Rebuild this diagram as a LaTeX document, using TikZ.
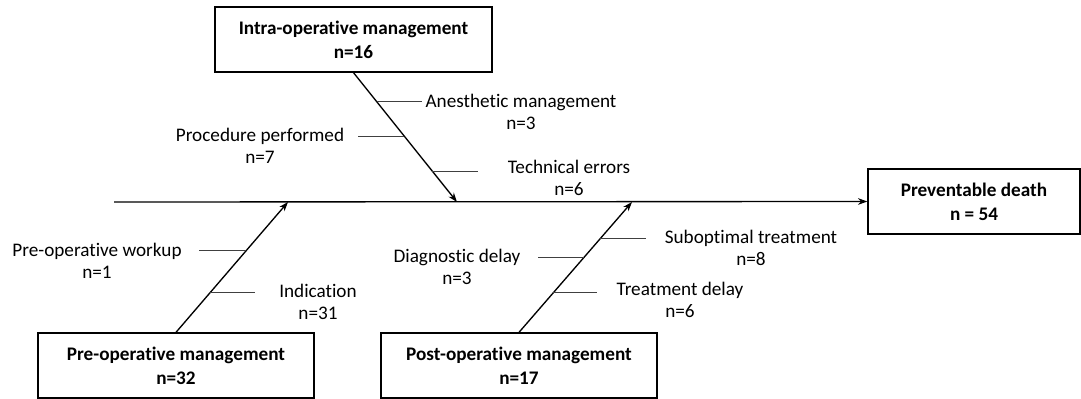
\documentclass[tikz,border=0pt]{standalone}
\usepackage{fontspec}
\setmainfont[Ligatures=NoCommon]{Carlito}
\usetikzlibrary{arrows.meta}

\begin{document}
\begin{tikzpicture}[x=0.75pt,y=-0.75pt,
  cause/.style={draw,line width=1pt,inner sep=0pt,minimum height=48.75pt,align=center,
    font=\bfseries\fontsize{14.4}{18}\selectfont},
  sub/.style={align=center,inner sep=0pt,font=\fontsize{14.4}{16.5}\selectfont},
  spine/.style={line width=1pt,-{Stealth[length=7pt,width=5pt]}},
  bone/.style={line width=0.8pt,black!75}]

\useasboundingbox (0,0) rectangle (1081,399);

% Effect
\node[cause,minimum width=159pt] (death) at (974,201.5) {Preventable death\\n = 54};

% Main line
\coordinate (tail) at (114,202);
\draw[spine] (tail) -- (death.west);

% Categories
\node[cause,minimum width=207.75pt] (intra) at (353.5,39.5) {Intra-operative management\\n=16};
\node[cause,minimum width=207pt] (pre) at (176,365.5) {Pre-operative management\\n=32};
\node[cause,minimum width=207pt] (post) at (519,365.5) {Post-operative management\\n=17};

% Heads on main line
\coordinate (intrahead) at (457,202);
\coordinate (prehead) at (288,202);
\coordinate (posthead) at (632,202);

% Spines
\draw[spine] (intra.south) -- (intrahead)
  coordinate[pos=0.223] (anes)
  coordinate[pos=0.492] (proc)
  coordinate[pos=0.762] (tech);
\draw[spine] (pre.north) -- (prehead)
  coordinate[pos=0.626] (workup)
  coordinate[pos=0.305] (indic);
\draw[spine] (post.north) -- (posthead)
  coordinate[pos=0.718] (subopt)
  coordinate[pos=0.573] (diag)
  coordinate[pos=0.305] (treat);

% Bones
\draw[bone] (anes) -- ++(45,0);
\draw[bone] (proc) -- ++(-46,0);
\draw[bone] (tech) -- ++(46,0);
\draw[bone] (workup) -- ++(-47,0);
\draw[bone] (indic) -- ++(45,0);
\draw[bone] (subopt) -- ++(46,0);
\draw[bone] (diag) -- ++(-46,0);
\draw[bone] (treat) -- ++(44,0);

% Sub-causes
\node[sub] (anesl) at (521,112) {Anesthetic management\\n=3};
\node[sub] (procl) at (260,146) {Procedure performed\\n=7};
\node[sub] (techl) at (569,178) {Technical errors\\n=6};
\node[sub] (workupl) at (97,261) {Pre-operative workup\\n=1};
\node[sub] (indicl) at (318,302) {Indication\\n=31};
\node[sub] (subl) at (751,248) {Suboptimal treatment\\n=8};
\node[sub] (diagl) at (457,267) {Diagnostic delay\\n=3};
\node[sub] (treatl) at (680,300) {Treatment delay\\n=6};

\end{tikzpicture}
\end{document}
